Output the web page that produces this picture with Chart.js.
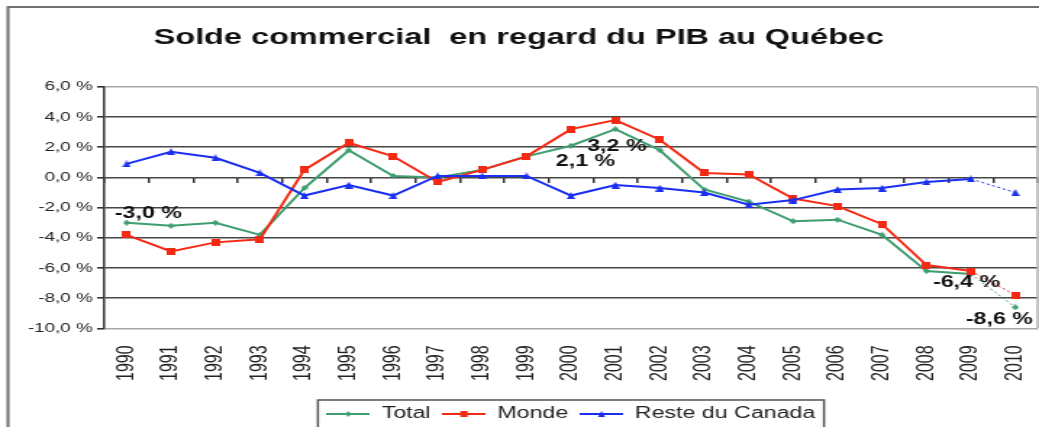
<!DOCTYPE html>
<html lang="fr">
<head>
<meta charset="utf-8">
<title>Solde commercial en regard du PIB au Québec</title>
<script src="https://cdn.jsdelivr.net/npm/chart.js@4.4.1/dist/chart.umd.min.js"></script>
<style>
  html, body { margin: 0; padding: 0; background: #fff; overflow: hidden; }
</style>
</head>
<body>
<!-- the original picture is stretched sideways, so the canvas is drawn narrow and widened by CSS -->
<canvas id="chart" width="717" height="427" style="width:1039px;height:427px"></canvas>
<script>
// ── DATA ──
const years = ['1990', '1991', '1992', '1993', '1994', '1995', '1996', '1997', '1998', '1999', '2000',
               '2001', '2002', '2003', '2004', '2005', '2006', '2007', '2008', '2009', '2010'];
const total       = [-3.0, -3.2, -3.0, -3.8, -0.7, 1.8, 0.1, 0.0, 0.5, 1.4, 2.1, 3.2, 1.8, -0.8, -1.6, -2.9, -2.8, -3.8, -6.2, -6.4, -8.6];
const monde       = [-3.8, -4.9, -4.3, -4.1, 0.5, 2.3, 1.4, -0.3, 0.5, 1.4, 3.2, 3.8, 2.5, 0.3, 0.2, -1.4, -1.9, -3.1, -5.8, -6.2, -7.8];
const resteCanada = [0.9, 1.7, 1.3, 0.3, -1.2, -0.5, -1.2, 0.1, 0.1, 0.1, -1.2, -0.5, -0.7, -1.0, -1.8, -1.5, -0.8, -0.7, -0.3, -0.1, -1.0];
const seriesNames = ['Total', 'Monde', 'Reste du Canada'];
const yMin = -10, yMax = 6, yStep = 2;
// indexes of the "Total" points that carry a value label
const labelledPoints = [0, 10, 11, 19, 20];

// label offsets from their point (canvas px)
const labelOffsets = { 0: [15, -9], 10: [10, 16], 11: [1, 17], 19: [-3, 9], 20: [-11, 12] };

const GREEN = '#3f9d70', RED = '#f52a14', BLUE = '#1a2ff0';
const FONT = "'Liberation Sans', Arial, sans-serif";

const fmtPct = v => v.toFixed(1).replace('.', ',') + ' %';

// ── MARKERS (narrow, they get widened with the canvas) ──
function drawShape(g, shape, cx, cy, w, h) {
  g.beginPath();
  if (shape === 'square') {
    g.rect(cx - w / 2, cy - h / 2, w, h);
  } else if (shape === 'diamond') {
    g.moveTo(cx, cy - h / 2); g.lineTo(cx + w / 2, cy); g.lineTo(cx, cy + h / 2); g.lineTo(cx - w / 2, cy);
  } else {
    g.moveTo(cx, cy - h / 2); g.lineTo(cx + w / 2, cy + h / 2); g.lineTo(cx - w / 2, cy + h / 2);
  }
  g.closePath();
  g.fill();
}

function makeMarker(shape, color, w, h) {
  const c = document.createElement('canvas');
  c.width = w; c.height = h;
  const g = c.getContext('2d');
  g.fillStyle = color;
  drawShape(g, shape, w / 2, h / 2, w, h);
  return c;
}

function makeLegendIcon(shape, color, w, h) {
  const c = document.createElement('canvas');
  c.width = 30; c.height = 8;
  const g = c.getContext('2d');
  g.strokeStyle = color;
  g.lineWidth = 2;
  g.beginPath(); g.moveTo(0, 4); g.lineTo(30, 4); g.stroke();
  g.fillStyle = color;
  drawShape(g, shape, 15, 4, w, h);
  return c;
}

const markers = [makeMarker('diamond', GREEN, 5, 6), makeMarker('square', RED, 6, 7), makeMarker('triangle', BLUE, 6, 7)];
const legendIcons = [makeLegendIcon('diamond', GREEN, 4, 6), makeLegendIcon('square', RED, 5, 6), makeLegendIcon('triangle', BLUE, 5, 6)];

// last segment (2009 -> 2010) is thin and dotted
const lastSegment = {
  borderDash: c => c.p1DataIndex === years.length - 1 ? [2, 2] : undefined,
  borderWidth: c => c.p1DataIndex === years.length - 1 ? 1 : undefined,
};

function series(label, data, color, marker, order) {
  return {
    label, data, order,
    xAxisID: 'x',
    borderColor: color,
    backgroundColor: color,
    borderWidth: 2,
    pointStyle: marker,
    pointRadius: 4,
    tension: 0,
    segment: lastSegment,
  };
}

// rotated year labels must not shrink the plot sideways
function noSidePadding(scale) {
  scale.paddingLeft = 0;
  scale.paddingRight = 0;
}

// ── PLUGIN: frame, plot border, legend box, value labels ──
const decorations = {
  id: 'decorations',
  beforeDraw(chart) {
    const { ctx, width, height } = chart;
    ctx.save();
    ctx.fillStyle = '#fff';
    ctx.fillRect(0, 0, width, height);
    ctx.strokeStyle = '#707070';
    ctx.lineWidth = 2;
    ctx.strokeRect(5.5, 7, width + 20, height + 20);
    ctx.restore();
  },
  beforeDatasetsDraw(chart) {
    const { ctx, chartArea } = chart;
    ctx.save();
    ctx.strokeStyle = '#b0b0b0';
    ctx.lineWidth = 1.5;
    ctx.beginPath();
    ctx.moveTo(chartArea.right, chartArea.top);
    ctx.lineTo(chartArea.right, chartArea.bottom);
    ctx.stroke();
    ctx.restore();
  },
  afterDatasetsDraw(chart) {
    const { ctx } = chart;
    const xs = chart.scales.x, ys = chart.scales.y;
    ctx.save();
    ctx.font = 'bold 16px ' + FONT;
    ctx.fillStyle = '#111';
    ctx.textAlign = 'center';
    ctx.textBaseline = 'middle';
    labelledPoints.forEach(i => {
      const [dx, dy] = labelOffsets[i];
      ctx.fillText(fmtPct(total[i]), xs.getPixelForValue(i) + dx, ys.getPixelForValue(total[i]) + dy);
    });
    ctx.restore();
  },
  afterDraw(chart) {
    const boxes = chart.legend && chart.legend.legendHitBoxes;
    if (!boxes || !boxes.length) return;
    const first = boxes[0], last = boxes[boxes.length - 1];
    const cy = first.top + first.height / 2;
    const { ctx } = chart;
    ctx.save();
    ctx.strokeStyle = '#555';
    ctx.lineWidth = 1.5;
    ctx.strokeRect(first.left - 6, cy - 14, last.left + last.width - first.left + 12, 30);
    ctx.restore();
  },
};

// ── CHART ──
new Chart(document.getElementById('chart'), {
  type: 'line',
  data: {
    labels: years,
    datasets: [
      series(seriesNames[0], total, GREEN, markers[0], 3),
      series(seriesNames[1], monde, RED, markers[1], 2),
      series(seriesNames[2], resteCanada, BLUE, markers[2], 1),
    ],
  },
  options: {
    responsive: false,
    animation: false,
    events: [],
    layout: { autoPadding: false, padding: { left: 0, right: 1, top: 0, bottom: -5 } },
    plugins: {
      tooltip: { enabled: false },
      title: {
        display: true,
        text: 'Solde commercial  en regard du PIB au Québec',
        color: '#111',
        font: { family: FONT, size: 22.4, weight: 'bold' },
        padding: { top: 24, bottom: 36 },
      },
      legend: {
        position: 'bottom',
        fullSize: false,
        labels: {
          color: '#222',
          font: { family: FONT, size: 16 },
          usePointStyle: true,
          pointStyleWidth: 30,
          padding: 8,
          sort: (a, b) => a.datasetIndex - b.datasetIndex,
          generateLabels(chart) {
            const items = Chart.defaults.plugins.legend.labels.generateLabels(chart);
            items.forEach(it => { it.pointStyle = legendIcons[it.datasetIndex]; });
            return items;
          },
        },
      },
    },
    scales: {
      x: {
        type: 'category',
        offset: true,
        grid: { display: false, drawTicks: false },
        border: { display: false },
        ticks: {
          color: '#222',
          font: { family: FONT, size: 16 },
          autoSkip: false,
          minRotation: 90,
          maxRotation: 90,
          padding: 17,
        },
        afterFit: noSidePadding,
      },
      x0: {
        type: 'category',
        position: { y: 0 },
        offset: true,
        grid: { display: true, drawOnChartArea: false, drawTicks: true, tickLength: 6, offset: true, color: '#333', lineWidth: 1.5 },
        border: { display: false },
        ticks: { display: false },
        afterFit: noSidePadding,
      },
      y: {
        min: yMin,
        max: yMax,
        grid: {
          color: c => (c.tick && (c.tick.value === yMax || c.tick.value === yMin)) ? '#a8a8a8' : '#474747',
          lineWidth: 1.6,
          tickColor: '#333',
          tickLength: 5,
        },
        border: { display: true, color: '#333', width: 1.5 },
        ticks: {
          stepSize: yStep,
          color: '#222',
          font: { family: FONT, size: 13 },
          padding: 3,
          callback: v => fmtPct(v),
        },
        afterFit(scale) { scale.width = 72; },
      },
    },
  },
  plugins: [decorations],
});
</script>
</body>
</html>
